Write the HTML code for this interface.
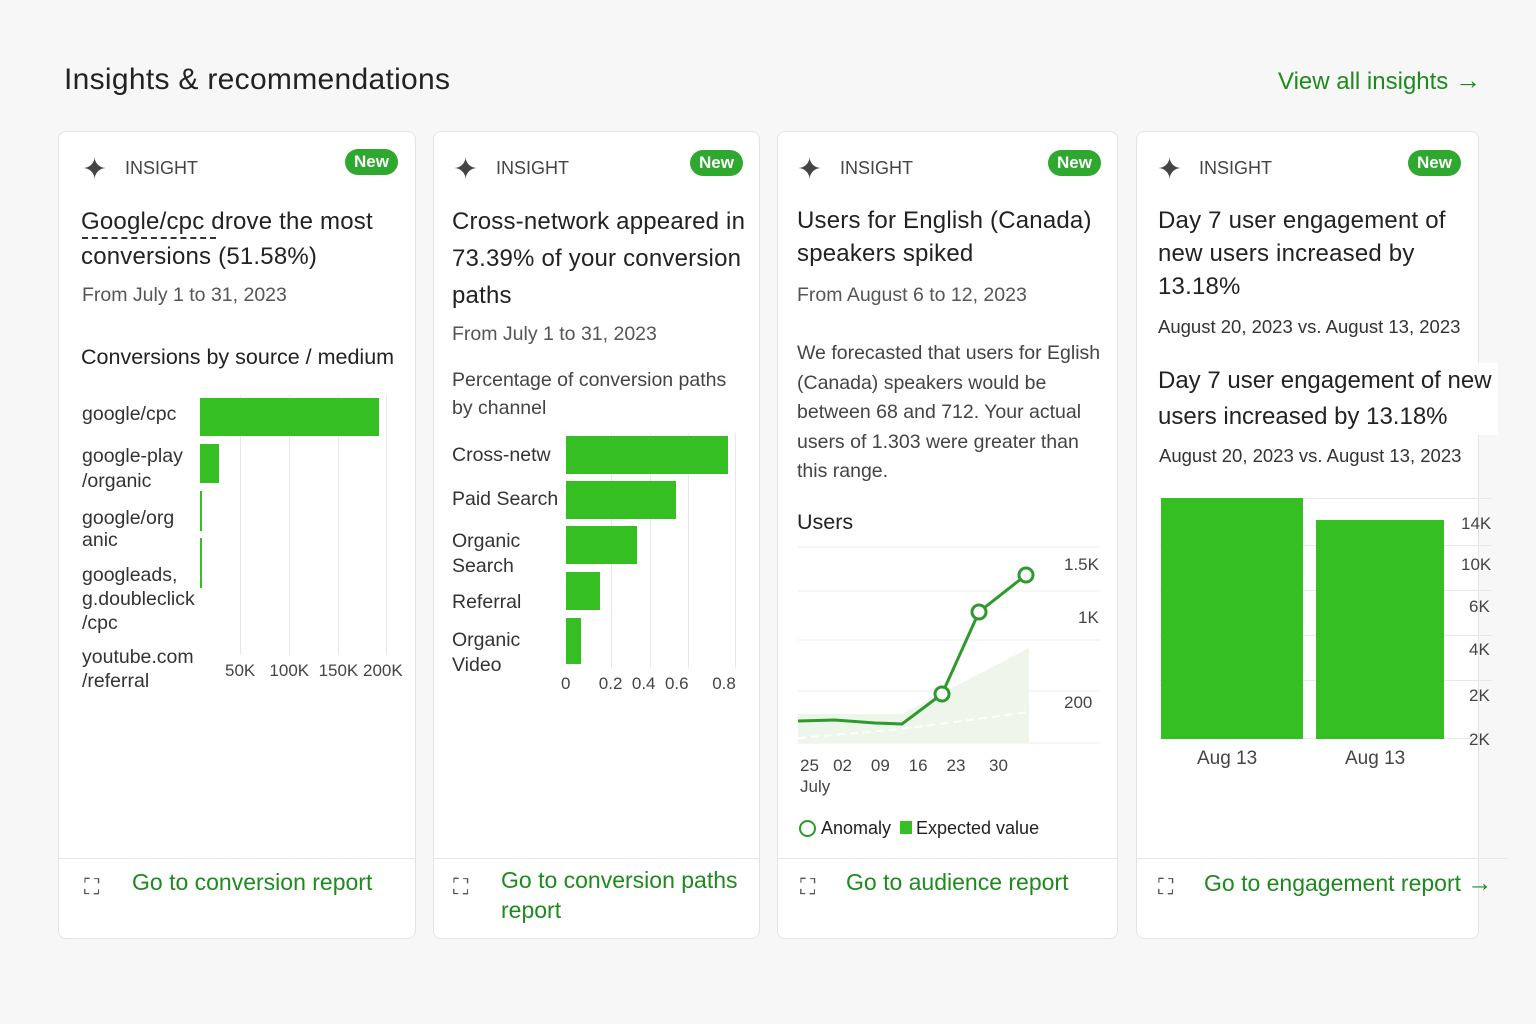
<!DOCTYPE html>
<html><head><style>
*{margin:0;padding:0;box-sizing:border-box}
body{width:1536px;height:1024px;background:#f7f7f7;font-family:"Liberation Sans",sans-serif;color:#222;position:relative;overflow:hidden}
.a{position:absolute;white-space:nowrap}
.card{position:absolute;top:131px;height:808px;background:#fff;border:1px solid #e4e4e4;border-radius:8px}
.div{position:absolute;left:0;right:0;top:726px;border-top:1px solid #e8e8e8}
.ins{font-size:18px;color:#444}
.new{position:absolute;background:#2ea82e;color:#fff;font-size:17px;font-weight:bold;border-radius:14px;padding:3px 9px}
.t{font-size:24px;color:#222;line-height:35px;letter-spacing:0.2px}
.s{font-size:19.5px;color:#555}
.b{font-size:19.5px;color:#333;line-height:25px}
.g{background:#36bf22}
.lk{font-size:23px;color:#1e8a1e}
.tk{font-size:17px;color:#444}
.gl{position:absolute;background:#e8e8e8}
</style></head><body>
<div class="a" style="left:64px;top:63px;font-size:30px;color:#222;letter-spacing:0.3px">Insights &amp; recommendations</div>
<div class="a" style="left:1278px;top:65px;font-size:24px;color:#1e8a1e">View all insights <span style="font-size:26px">→</span></div>

<div class="card" style="left:58px;width:358px"><div class="div"></div></div>
<div class="a" style="left:82px;top:152px;font-size:30px;color:#444">✦</div>
<div class="a ins" style="left:125px;top:158px">INSIGHT</div>
<div class="new" style="left:345px;top:149px">New</div>
<div class="a t" style="left:81px;top:204px;line-height:35px">Google/cpc drove the most<br>conversions (51.58%)</div>
<div class="a" style="left:82px;top:237px;width:134px;border-top:2px dashed #333"></div>
<div class="a s" style="left:82px;top:284px">From July 1 to 31, 2023</div>
<div class="a" style="left:81px;top:345px;font-size:21.5px">Conversions by source / medium</div>
<div class="gl" style="left:240px;top:395px;width:1px;height:260px"></div>
<div class="gl" style="left:289px;top:395px;width:1px;height:260px"></div>
<div class="gl" style="left:338px;top:395px;width:1px;height:260px"></div>
<div class="gl" style="left:386px;top:395px;width:1px;height:260px"></div>
<div class="a g" style="left:200px;top:398px;width:179px;height:38px"></div>
<div class="a g" style="left:200px;top:444px;width:19px;height:39px"></div>
<div class="a g" style="left:200px;top:491px;width:2px;height:40px"></div>
<div class="a g" style="left:200px;top:538px;width:2px;height:50px"></div>
<div class="a b" style="left:82px;top:402px">google/cpc</div>
<div class="a b" style="left:82px;top:444px">google-play<br>/organic</div>
<div class="a b" style="left:82px;top:507px;line-height:22px">google/org<br>anic</div>
<div class="a b" style="left:82px;top:563px;line-height:24px">googleads,<br>g.doubleclick<br>/cpc</div>
<div class="a b" style="left:82px;top:645px;line-height:24px">youtube.com<br>/referral</div>
<div class="a tk" style="left:225px;top:661px">50K&nbsp;&nbsp; 100K&nbsp; 150K 200K</div>
<div class="a" style="left:84px;top:874px;font-size:22px;color:#555">⛶</div>
<div class="a lk" style="left:132px;top:869px">Go to conversion report</div>

<div class="card" style="left:433px;width:327px"><div class="div"></div></div>
<div class="a" style="left:453px;top:152px;font-size:30px;color:#444">✦</div>
<div class="a ins" style="left:496px;top:158px">INSIGHT</div>
<div class="new" style="left:690px;top:150px">New</div>
<div class="a t" style="left:452px;top:203px;line-height:37px">Cross-network appeared in<br>73.39% of your conversion<br>paths</div>
<div class="a s" style="left:452px;top:323px">From July 1 to 31, 2023</div>
<div class="a s" style="left:452px;top:366px;line-height:28px;color:#444">Percentage of conversion paths<br>by channel</div>
<div class="gl" style="left:611px;top:433px;width:1px;height:235px"></div>
<div class="gl" style="left:650px;top:433px;width:1px;height:235px"></div>
<div class="gl" style="left:688px;top:433px;width:1px;height:235px"></div>
<div class="gl" style="left:735px;top:433px;width:1px;height:235px"></div>
<div class="a g" style="left:566px;top:436px;width:162px;height:38px"></div>
<div class="a g" style="left:566px;top:481px;width:110px;height:38px"></div>
<div class="a g" style="left:566px;top:526px;width:71px;height:38px"></div>
<div class="a g" style="left:566px;top:572px;width:34px;height:38px"></div>
<div class="a g" style="left:566px;top:618px;width:15px;height:46px"></div>
<div class="a b" style="left:452px;top:443px">Cross-netw</div>
<div class="a b" style="left:452px;top:487px">Paid Search</div>
<div class="a b" style="left:452px;top:529px">Organic<br>Search</div>
<div class="a b" style="left:452px;top:590px">Referral</div>
<div class="a b" style="left:452px;top:628px">Organic<br>Video</div>
<div class="a tk" style="left:561px;top:674px">0&nbsp;&nbsp;&nbsp;&nbsp;&nbsp; 0.2&nbsp; 0.4&nbsp; 0.6&nbsp;&nbsp;&nbsp;&nbsp; 0.8</div>
<div class="a" style="left:453px;top:874px;font-size:22px;color:#555">⛶</div>
<div class="a lk" style="left:501px;top:865px;line-height:30px">Go to conversion paths<br>report</div>

<div class="card" style="left:777px;width:341px"><div class="div"></div></div>
<div class="a" style="left:797px;top:152px;font-size:30px;color:#444">✦</div>
<div class="a ins" style="left:840px;top:158px">INSIGHT</div>
<div class="new" style="left:1048px;top:150px">New</div>
<div class="a t" style="left:797px;top:204px;line-height:33px">Users for English (Canada)<br>speakers spiked</div>
<div class="a s" style="left:797px;top:284px">From August 6 to 12, 2023</div>
<div class="a s" style="left:797px;top:339px;line-height:29.5px;color:#444">We forecasted that users for Eglish<br>(Canada) speakers would be<br>between 68 and 712. Your actual<br>users of 1.303 were greater than<br>this range.</div>
<div class="a" style="left:797px;top:510px;font-size:21.5px">Users</div>
<svg class="a" style="left:780px;top:530px" width="340" height="230">
<g stroke="#ececec" stroke-width="1"><line x1="18" y1="17" x2="320" y2="17"/><line x1="18" y1="61" x2="320" y2="61"/><line x1="18" y1="110" x2="320" y2="110"/><line x1="18" y1="161" x2="320" y2="161"/><line x1="18" y1="213" x2="320" y2="213"/></g>
<polygon points="18,213 18,184 122,184 249,118 249,213" fill="#eef5ea"/>
<polyline points="18,208 122,199 249,182" fill="none" stroke="#fff" stroke-width="2" stroke-dasharray="8,5"/>
<polyline points="18,191 55,190 95,193 122,194 162,164 199,82 246,45" fill="none" stroke="#2e9a2e" stroke-width="3"/>
<g fill="#fff" stroke="#2e9a2e" stroke-width="3"><circle cx="162" cy="164" r="7"/><circle cx="199" cy="82" r="7"/><circle cx="246" cy="45" r="7"/></g>
<g font-size="17" fill="#444" font-family="Liberation Sans"><text x="284" y="40">1.5K</text><text x="298" y="93">1K</text><text x="284" y="178">200</text></g>
</svg>
<div class="a tk" style="left:800px;top:756px">25&nbsp;&nbsp; 02&nbsp;&nbsp;&nbsp; 09&nbsp;&nbsp;&nbsp; 16&nbsp;&nbsp;&nbsp; 23&nbsp;&nbsp;&nbsp;&nbsp; 30</div>
<div class="a tk" style="left:800px;top:777px">July</div>
<div class="a" style="left:799px;top:820px;width:17px;height:17px;border:2.5px solid #2e9a2e;border-radius:50%"></div>
<div class="a tk" style="left:821px;top:818px;color:#222;font-size:18px">Anomaly</div>
<div class="a g" style="left:900px;top:821px;width:12px;height:13px"></div>
<div class="a tk" style="left:916px;top:818px;color:#222;font-size:18px">Expected value</div>
<div class="a" style="left:800px;top:874px;font-size:22px;color:#555">⛶</div>
<div class="a lk" style="left:846px;top:869px">Go to audience report</div>

<div class="card" style="left:1136px;width:343px"><div class="div" style="right:-30px"></div></div>
<div class="a" style="left:1157px;top:152px;font-size:30px;color:#444">✦</div>
<div class="a ins" style="left:1199px;top:158px">INSIGHT</div>
<div class="new" style="left:1408px;top:150px">New</div>
<div class="a t" style="left:1158px;top:204px;line-height:33px">Day 7 user engagement of<br>new users increased by<br>13.18%</div>
<div class="a" style="left:1158px;top:316px;font-size:18.5px;color:#333">August 20, 2023 vs. August 13, 2023</div>
<div class="a" style="left:1158px;top:363px;font-size:24px;line-height:36px;background:#fff;padding-right:6px">Day 7 user engagement of new<br>users increased by 13.18%</div>
<div class="a" style="left:1159px;top:445px;font-size:18.5px;color:#333">August 20, 2023 vs. August 13, 2023</div>
<div class="gl" style="left:1160px;top:498px;width:332px;height:1px"></div>
<div class="gl" style="left:1160px;top:545px;width:332px;height:1px"></div>
<div class="gl" style="left:1160px;top:590px;width:332px;height:1px"></div>
<div class="gl" style="left:1160px;top:635px;width:332px;height:1px"></div>
<div class="gl" style="left:1160px;top:680px;width:332px;height:1px"></div>
<div class="gl" style="left:1160px;top:738px;width:332px;height:1px"></div>
<div class="a g" style="left:1161px;top:498px;width:142px;height:241px"></div>
<div class="a g" style="left:1316px;top:520px;width:128px;height:219px"></div>
<div class="a tk" style="left:1461px;top:514px">14K</div>
<div class="a tk" style="left:1461px;top:555px">10K</div>
<div class="a tk" style="left:1469px;top:597px">6K</div>
<div class="a tk" style="left:1469px;top:640px">4K</div>
<div class="a tk" style="left:1469px;top:686px">2K</div>
<div class="a tk" style="left:1469px;top:730px">2K</div>
<div class="a" style="left:1197px;top:748px;font-size:19px;color:#444">Aug 13</div>
<div class="a" style="left:1345px;top:748px;font-size:19px;color:#444">Aug 13</div>
<div class="a" style="left:1158px;top:874px;font-size:22px;color:#555">⛶</div>
<div class="a lk" style="left:1204px;top:869px">Go to engagement report <span style="font-size:25px">→</span></div>
</body></html>
